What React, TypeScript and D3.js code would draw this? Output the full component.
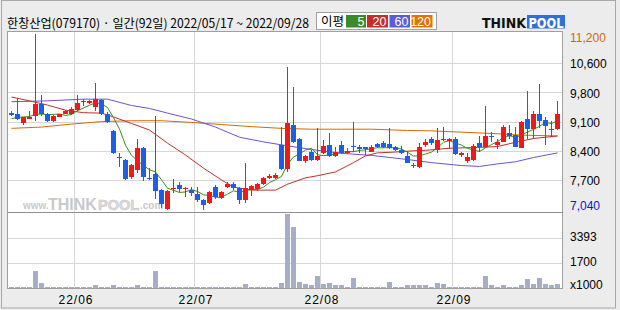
import React from "react";
import * as d3 from "d3";

const dates = [
  "05/17","05/18","05/19","05/20","05/23","05/24","05/25","05/26","05/27","05/30","05/31",
  "06/02","06/03","06/07","06/08","06/09","06/10","06/13","06/14","06/15","06/16","06/17","06/20","06/21","06/22","06/23","06/24","06/27","06/28","06/29","06/30",
  "07/01","07/04","07/05","07/06","07/07","07/08","07/11","07/12","07/13","07/14","07/15","07/18","07/19","07/20","07/21","07/22","07/25","07/26","07/27","07/28","07/29",
  "08/01","08/02","08/03","08/04","08/05","08/08","08/09","08/10","08/11","08/12","08/16","08/17","08/18","08/19","08/22","08/23","08/24","08/25","08/26","08/29","08/30","08/31",
  "09/01","09/02","09/05","09/06","09/07","09/08","09/13","09/14","09/15","09/16","09/19","09/20","09/21","09/22","09/23","09/26","09/27","09/28"
];

const opens = [9340,9310,9100,9200,9270,9550,9300,9140,9250,9320,9310,9400,9610,9570,9480,9640,9320,8910,8290,8220,7810,7990,8500,7800,7890,7510,7060,7540,7630,7530,7510,7420,7280,7200,7590,7330,7590,7650,7550,7280,7510,7530,7650,7790,7790,8580,8020,9050,8720,8190,8420,8220,8390,8580,8320,8580,8390,8550,8530,8520,8420,8600,8630,8600,8530,8460,8320,8100,8060,8580,8720,8450,8690,8680,8720,8340,8210,8220,8620,8520,8780,8580,8650,8850,8810,8510,9190,8960,9320,9170,8960,8950];
const highs = [9380,9660,9250,9370,11200,9760,9330,9280,9320,9400,9480,9770,9660,9640,10040,9660,9360,8940,8380,8250,8130,8730,8530,8030,9260,7540,7510,7770,7700,7590,7590,7590,7300,7490,7630,7490,7710,7700,7590,8140,7630,7680,7830,7890,7920,9010,10430,9950,8740,8350,8470,8970,8690,8870,8540,8670,8510,9130,8580,8540,8580,8630,8660,8970,8550,8550,8440,8160,8620,8730,8770,8970,9000,8740,8770,8420,8380,8600,8790,9500,8890,8710,9050,9050,9010,9140,9850,9390,10020,9230,9150,9620];
const lows = [9260,9170,9040,9190,9150,9260,9120,9120,9230,9300,9290,9380,9500,9550,9390,9290,9090,8370,8060,7750,7780,7910,7730,7750,7310,7090,7050,7440,7470,7350,7370,7230,7040,7180,7310,7300,7550,7510,7180,7200,7370,7490,7630,7770,7770,7990,7950,8630,8200,8140,8200,8200,8360,8290,8290,8370,8370,8420,8380,8340,8400,8510,8500,8480,8430,8370,8140,8030,8040,8530,8580,8390,8680,8480,8340,8290,8140,8210,8420,8500,8650,8480,8640,8710,8520,8500,8730,8730,8980,8570,8760,8930];
const closes = [9280,9200,9230,9250,9550,9300,9140,9260,9300,9370,9420,9580,9590,9620,9660,9310,9130,8390,8270,7770,8100,8500,7810,7780,7500,7180,7500,7560,7530,7570,7450,7280,7160,7460,7350,7460,7650,7550,7280,7550,7610,7650,7800,7840,7870,8000,9100,8650,8210,8320,8220,8320,8550,8320,8420,8390,8430,8530,8480,8480,8530,8530,8530,8500,8450,8390,8160,8070,8540,8650,8620,8690,8710,8730,8360,8380,8290,8550,8540,8790,8760,8650,9000,8790,8540,9120,8960,9320,9150,9030,8950,9310];
// volume in thousands of shares
const volumes = [100,100,100,100,1150,340,100,100,100,100,100,100,100,100,200,100,100,200,100,100,100,200,100,100,1150,100,100,100,100,100,100,100,100,100,100,100,100,100,100,270,100,100,100,100,100,360,4990,4140,425,250,200,810,270,360,200,200,100,700,100,100,100,100,100,425,100,100,200,200,200,200,100,360,270,100,100,100,100,100,100,810,200,100,200,100,100,200,610,270,700,270,200,270];
// closes of the four sessions before the window (for the 5-day average)
const priorCloses = [9050, 9180, 9200, 9290];

// moving averages: [day index, value]
const ma20Points: [number, number][] = [[0,9710],[3,9620],[6,9520],[9,9400],[12,9340],[15,9330],[17,9240],[20,9085],[23,8930],[26,8620],[29,8340],[32,8030],[35,7750],[37,7580],[40,7510],[44,7510],[46,7650],[49,7800],[51,7850],[54,7940],[57,8160],[59,8320],[61,8390],[64,8410],[67,8440],[69,8450],[73,8500],[78,8520],[81,8540],[84,8640],[87,8730],[91,8790]];
const ma60Points: [number, number][] = [[0,9600],[6,9620],[12,9660],[16,9660],[20,9510],[23,9440],[26,9330],[30,9190],[34,9000],[38,8760],[42,8650],[45,8580],[50,8470],[55,8380],[60,8330],[65,8250],[70,8160],[75,8090],[78,8070],[81,8130],[84,8180],[87,8280],[91,8390]];
const ma120Points: [number, number][] = [[0,8970],[5,9000],[10,9070],[15,9130],[20,9150],[25,9150],[30,9110],[35,9060],[40,9010],[45,8970],[50,8950],[55,8950],[60,8950],[66,8920],[70,8910],[75,8880],[80,8850],[85,8810],[91,8790]];

const priceGridValues = [10510, 9820, 9130, 8440, 7750];
const priceGridLabels = ["10,600", "9,800", "9,100", "8,400", "7,700"];
const maxLabel = "11,200";
const minLabel = "7,040";
const volGridValues = [3393, 1700];
const volGridLabels = ["3393", "1700"];
const monthTicks = ["06/02", "07/01", "08/01", "09/01"];
const monthLabels = ["22/06", "22/07", "22/08", "22/09"];
const legendItems = [
  { label: "5", color: "#3d8a2b" },
  { label: "20", color: "#c3302b" },
  { label: "60", color: "#5c5cd6" },
  { label: "120", color: "#df7300" },
];

const UP = "#f01818";
const DOWN = "#1f5ee4";
const MA_COLORS = ["#3a8d22", "#c0302a", "#6654d8", "#d86a00"];
const NUM_FONT = "'Liberation Sans', Arial, sans-serif";
const KR_FONT = "'Noto Sans CJK KR', 'Noto Sans', sans-serif";

export default function App() {
  const left = 8, right = 560;
  const x = d3.scaleBand<string>().domain(dates).range([left, right]);
  const bw = x.bandwidth();
  const y = d3.scaleLinear().domain([7040, 11200]).range([210, 34]);
  const yv = d3.scaleLinear().domain([0, 3393]).range([288, 237.7]);
  const cx = (i: number) => (x(dates[i]) as number) + 3.5;

  const allCloses = [...priorCloses, ...closes];
  const ma5: [number, number][] = closes.map((_, i) => [i, d3.mean(allCloses.slice(i, i + 5)) as number]);

  const line = d3.line<[number, number]>().x((d) => cx(d[0])).y((d) => y(d[1]));

  const plotTop = 31.5, plotBottom = 288.5, panelSplit = 212.5, plotRight = 562.5, plotLeft = 7.5;

  return (
    <svg width={620} height={310} style={{ position: "absolute", left: 0, top: 0 }} xmlns="http://www.w3.org/2000/svg">
      <rect x={0} y={0} width={620} height={310} fill="#ececec" />
      <rect x={1.5} y={0.5} width={614} height={307.5} fill="none" stroke="#a8a8a8" />
      {/* header */}
      <text x={7} y={28} fontFamily={KR_FONT} fontSize={12.5} fill="#000" textLength={302} lengthAdjust="spacingAndGlyphs">
        한창산업(079170) · 일간(92일) 2022/05/17 ~ 2022/09/28
      </text>
      {/* legend */}
      <rect x={316.5} y={12.5} width={120} height={17} fill="#fff" stroke="#a0a0a0" />
      <text x={321} y={26} fontFamily={KR_FONT} fontSize={12.5} fill="#000">이평</text>
      {legendItems.map((it, k) => {
        const bx = [346, 367, 389.5, 411.5][k];
        const bwid = [20, 21, 20.5, 21][k];
        return (
          <g key={it.label}>
            <rect x={bx} y={15} width={bwid} height={12.5} fill={it.color} />
            <text x={bx + bwid - 1.5} y={26} textAnchor="end" fontFamily={NUM_FONT} fontSize={12.5} fill="#fff">{it.label}</text>
          </g>
        );
      })}
      {/* logo */}
      <text x={482} y={28} fontFamily="'DejaVu Sans', sans-serif" fontWeight={900} fontSize={14} fill="#111" textLength={44} lengthAdjust="spacingAndGlyphs">THINK</text>
      <rect x={527} y={15} width={38} height={13.5} fill="#2f6fd8" />
      <text x={528.5} y={27.5} fontFamily="'DejaVu Sans', sans-serif" fontWeight={900} fontSize={14} fill="#fff" textLength={35} lengthAdjust="spacingAndGlyphs">POOL</text>

      {/* plot area */}
      <rect x={plotLeft} y={plotTop} width={plotRight - plotLeft} height={plotBottom - plotTop} fill="#fff" />
      <g stroke="#d6d6d6" strokeWidth={1} shapeRendering="crispEdges">
        {priceGridValues.map((v) => (
          <line key={v} x1={plotLeft} x2={plotRight} y1={Math.round(y(v)) + 0.5} y2={Math.round(y(v)) + 0.5} />
        ))}
        {volGridValues.map((v) => (
          <line key={v} x1={plotLeft} x2={plotRight} y1={Math.round(yv(v)) + 0.5} y2={Math.round(yv(v)) + 0.5} />
        ))}
        {monthTicks.map((d) => (
          <line key={d} x1={(x(d) as number) + 0.5} x2={(x(d) as number) + 0.5} y1={plotTop} y2={plotBottom} />
        ))}
      </g>

      {/* watermark */}
      <g fill="#c9c9c9" fontFamily={NUM_FONT} fontWeight={700}>
        <text x={23} y={209} fontSize={10}>www.</text>
        <text x={48} y={210} fontSize={16}>THINK</text>
        <text x={98} y={210} fontSize={14.5} fill="#dcdcdc" stroke="#c9c9c9" strokeWidth={0.6}>POOL</text>
        <text x={140} y={209} fontSize={10}>.com</text>
      </g>

      {/* moving averages */}
      <g fill="none" strokeWidth={1}>
        <path d={line(ma120Points) as string} stroke={MA_COLORS[3]} />
        <path d={line(ma60Points) as string} stroke={MA_COLORS[2]} />
        <path d={line(ma20Points) as string} stroke={MA_COLORS[1]} />
        <path d={line(ma5) as string} stroke={MA_COLORS[0]} />
      </g>

      {/* candles */}
      <g shapeRendering="crispEdges">
        {dates.map((d, i) => {
          const o = opens[i], c = closes[i], h = highs[i], l = lows[i];
          const col = c >= o ? UP : DOWN;
          const x0 = x(d) as number;
          const top = Math.round(y(Math.max(o, c)));
          const bot = Math.round(y(Math.min(o, c)));
          const hy = Math.round(y(h));
          const ly = Math.round(y(l));
          return (
            <g key={d} fill={col}>
              <rect x={x0 + 3} y={hy} width={1} height={Math.max(1, ly - hy)} />
              <rect x={x0 + 1} y={top} width={bw - 1} height={Math.max(1, bot - top)} />
            </g>
          );
        })}
      </g>

      {/* volume */}
      <g fill="#a6adc4" shapeRendering="crispEdges">
        {dates.map((d, i) => {
          const top = yv(volumes[i]);
          return <rect key={d} x={(x(d) as number) + 1} y={top} width={bw - 1} height={288 - top} />;
        })}
      </g>

      {/* borders */}
      <rect x={plotLeft} y={plotTop} width={plotRight - plotLeft} height={plotBottom - plotTop} fill="none" stroke="#a0a0a0" shapeRendering="crispEdges" />
      <line x1={plotLeft} x2={plotRight} y1={panelSplit} y2={panelSplit} stroke="#8f8f8f" shapeRendering="crispEdges" />

      {/* right axis labels */}
      <g fontFamily={NUM_FONT} fontSize={12} dominantBaseline="middle">
        <text x={570} y={y(11200) + 4.5} fill="#cc6a10">{maxLabel}</text>
        {priceGridValues.map((v, k) => (
          <text key={v} x={570} y={y(v) + 2} fill="#000">{priceGridLabels[k]}</text>
        ))}
        <text x={570} y={y(7040) - 3} fill="#1414c8">{minLabel}</text>
        {volGridValues.map((v, k) => (
          <text key={v} x={570} y={yv(v) + 0.5} fill="#000">{volGridLabels[k]}</text>
        ))}
        <text x={570} y={286} fill="#000">x1000</text>
      </g>

      {/* bottom axis labels */}
      <g fontFamily={NUM_FONT} fontSize={12} textAnchor="middle" fill="#000">
        {monthTicks.map((d, k) => (
          <text key={d} x={(x(d) as number) + 2} y={304} letterSpacing={1}>{monthLabels[k]}</text>
        ))}
      </g>
    </svg>
  );
}
